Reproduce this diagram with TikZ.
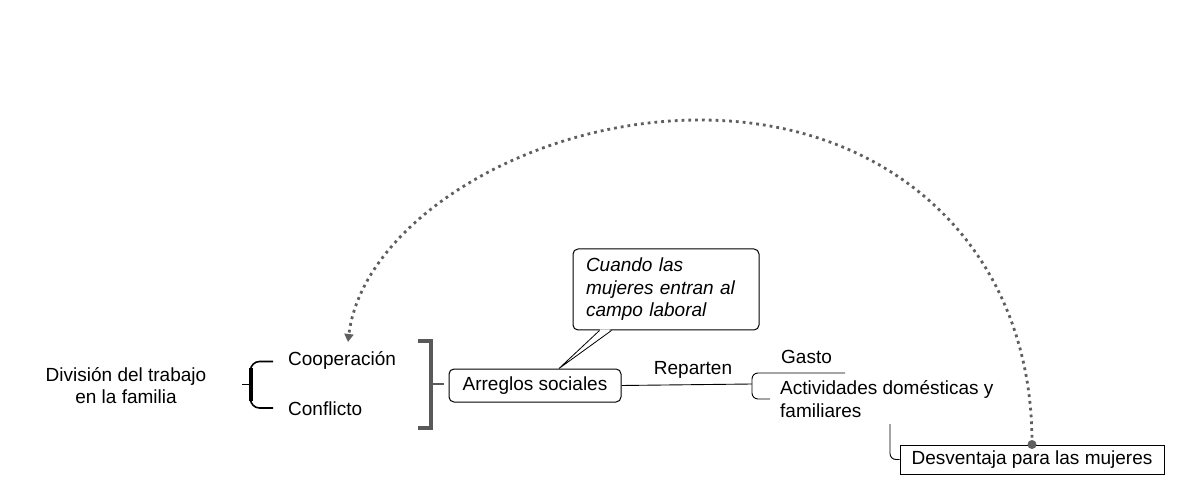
\documentclass[tikz,border=0pt]{standalone}
\usepackage{fontspec}
\setmainfont{Liberation Sans}
\usetikzlibrary{arrows.meta,calc}
\definecolor{brgray}{HTML}{595959}
\definecolor{dotgray}{HTML}{5F5F5F}
\begin{document}
\begin{tikzpicture}[x=1pt,y=-1pt,
  font=\fontsize{19}{22.5}\selectfont,
  txt/.style={inner sep=0pt, align=left, anchor=west},
  rbox/.style={draw=black, line width=1pt, rounded corners=5pt, fill=white, inner sep=0pt},
  sbox/.style={draw=black, line width=1pt, fill=white, inner sep=0pt},
  callbox/.style={draw=black, line width=1pt, rounded corners=5pt, fill=white,
     text width=160pt, align=left, inner xsep=13pt, inner ysep=0pt, minimum height=81pt},
  conn/.style={draw=black, line width=0.9pt},
  arcstyle/.style={draw=dotgray, line width=2.8pt, dash pattern=on 2.8pt off 4pt,
     -{Triangle[width=9pt,length=8pt]}}
]
\useasboundingbox (0,0) rectangle (1179,489);

% nodes
\node[txt, align=center, anchor=center] (div) at (126,385.5) {División del trabajo\\en la familia};
\node[txt] (coop) at (288,360) {Cooperación};
\node[txt] (conf) at (288,409) {Conflicto};
\node[rbox, minimum width=172pt, minimum height=33pt] (arr) at (535,385.5) {Arreglos sociales};
\node[txt, anchor=center] (rep) at (693,370) {Reparten};
\node[txt] (gas) at (781,357) {Gasto};
\node[txt] (act) at (780,399) {Actividades domésticas y\\familiares};
\node[callbox] (call) at (666,289.5) {\itshape Cuando las\\mujeres entran al\\campo laboral};
\node[sbox, minimum width=264pt, minimum height=29pt] (des) at (1032,459.5) {Desventaja para las mujeres};

% callout pointer
\coordinate (p1) at ($(call.south west)+(27,0)$);
\coordinate (p2) at ($(call.south west)+(39,0)$);
\coordinate (ptip) at ($(arr.north)+(24,0)$);
\fill[white] ($(p1)+(0.8,-1.2)$) -- (ptip) -- ($(p2)+(-0.8,-1.2)$) -- cycle;
\draw[conn, line width=0.8pt] (p1) -- (ptip) -- (p2);

% left brace
\coordinate (bstub) at (242,384);
\draw[conn] (bstub) -- (250,384);
\draw[black, line width=1.6pt, rounded corners=9pt] (273,361.5) -- (250.5,361.5) -- (250.5,408) -- (273,408);
\draw[black, line width=3.4pt] (251,368) -- (251,401);

% right bracket
\draw[brgray, line width=3.5pt] (418,341) -- (431,341) -- (431,428) -- (418,428);
\draw[brgray, line width=2pt] (431,384) -- (444,384);

% reparten connector and branch
\coordinate (br) at (752,384);
\draw[conn] (arr.east) -- (br);
\draw[conn, rounded corners=6pt] (845,373) -- (752,373) -- (752,399) -- (770,399);

% to desventaja
\coordinate (dv) at (890,424);
\draw[conn, rounded corners=6pt] (dv) -- (890,459.5) -- (des.west);

% dotted arc
\coordinate (tip) at (348,342);
\fill[dotgray] (des.north) circle (4.5pt);
\draw[arcstyle] (des.north) .. controls (1033,250) and (893,120) .. (700,120)
   .. controls (525,120) and (362,225) .. (tip);
\end{tikzpicture}
\end{document}
